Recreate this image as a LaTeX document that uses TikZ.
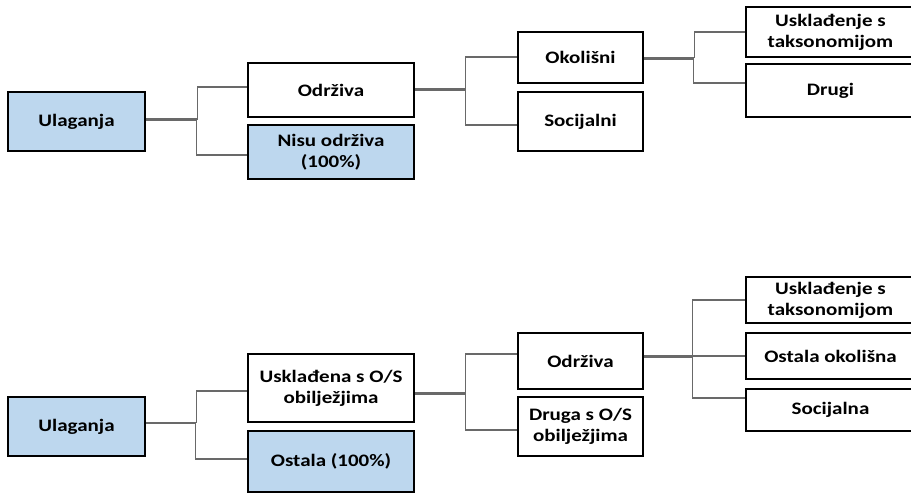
\documentclass[tikz,border=0pt]{standalone}
\usepackage{fontspec}
\setmainfont{Carlito}[FakeStretch=1.2]
\definecolor{boxblue}{RGB}{189,215,238}
\definecolor{conngray}{RGB}{105,105,105}
\begin{document}
\begin{tikzpicture}[x=1pt,y=-1pt,
  box/.style={draw=black, line width=1.8pt, fill=white, inner sep=2pt, align=center,
    font=\fontsize{17.5}{21}\selectfont\bfseries},
  bluebox/.style={box, fill=boxblue},
  conn/.style={draw=conngray, line width=1.1pt}]
\clip (0,0) rectangle (911,498);
% top diagram
\node[bluebox, minimum width=137pt, minimum height=59pt] (u1) at (76.5,121.5) {Ulaganja};
\node[box, minimum width=166pt, minimum height=54pt] (o1) at (331,90) {Održiva};
\node[bluebox, minimum width=166pt, minimum height=54pt] (n1) at (331,152) {Nisu održiva\\(100\%)};
\node[box, minimum width=125pt, minimum height=51pt] (ok) at (580.5,57.5) {Okolišni};
\node[box, minimum width=125pt, minimum height=59pt] (so) at (580.5,121.5) {Socijalni};
\node[box, minimum width=169pt, minimum height=50pt] (ut1) at (830.5,32) {Usklađenje s\\taksonomijom};
\node[box, minimum width=169pt, minimum height=53pt] (dr) at (830.5,90.5) {Drugi};
% bottom diagram
\node[bluebox, minimum width=137pt, minimum height=59pt] (u2) at (76.5,426.5) {Ulaganja};
\node[box, minimum width=166pt, minimum height=68pt] (us) at (331,388) {Usklađena s O/S\\obilježjima};
\node[bluebox, minimum width=166pt, minimum height=61pt] (os) at (331,461.5) {Ostala (100\%)};
\node[box, minimum width=125pt, minimum height=56pt] (od2) at (580.5,361) {Održiva};
\node[box, minimum width=125pt, minimum height=59pt] (dg) at (580.5,426.5) {Druga s O/S\\obilježjima};
\node[box, minimum width=169pt, minimum height=46pt] (ut2) at (830.5,300) {Usklađenje s\\taksonomijom};
\node[box, minimum width=169pt, minimum height=46pt] (oo) at (830.5,356) {Ostala okolišna};
\node[box, minimum width=169pt, minimum height=42pt] (sc) at (830.5,410) {Socijalna};
% connectors top
\draw[conn] ([yshift=2.5pt]u1.east) -- ++(52,0) |- ([yshift=3pt]o1.west);
\draw[conn] ([yshift=1pt]u1.east) -- ++(51,0) |- ([yshift=-3pt]n1.west);
\draw[conn] ([yshift=1.5pt]o1.east) -- ++(51,0) |- ([yshift=0.5pt]ok.west);
\draw[conn] ([yshift=0pt]o1.east) -- ++(51,0) |- ([yshift=-3.5pt]so.west);
\draw[conn] ([yshift=0pt]ok.east) -- ++(51,0) |- ([yshift=0pt]ut1.west);
\draw[conn] ([yshift=-1.5pt]ok.east) -- ++(50,0) |- ([yshift=7.5pt]dr.west);
% connectors bottom
\draw[conn] ([yshift=4pt]u2.east) -- ++(51,0) |- ([yshift=-3pt]us.west);
\draw[conn] ([yshift=3pt]u2.east) -- ++(50,0) |- ([yshift=2.5pt]os.west);
\draw[conn] ([yshift=-4.5pt]us.east) -- ++(51,0) |- ([yshift=7pt]od2.west);
\draw[conn] ([yshift=-6pt]us.east) -- ++(51,0) |- ([yshift=-3.5pt]dg.west);
\draw[conn] ([yshift=5pt]od2.east) -- ++(49,0) |- ([yshift=0pt]ut2.west);
\draw[conn] ([yshift=5pt]od2.east) -- (oo.west);
\draw[conn] ([yshift=4pt]od2.east) -- ++(49,0) |- ([yshift=12pt]sc.west);
\end{tikzpicture}
\end{document}
